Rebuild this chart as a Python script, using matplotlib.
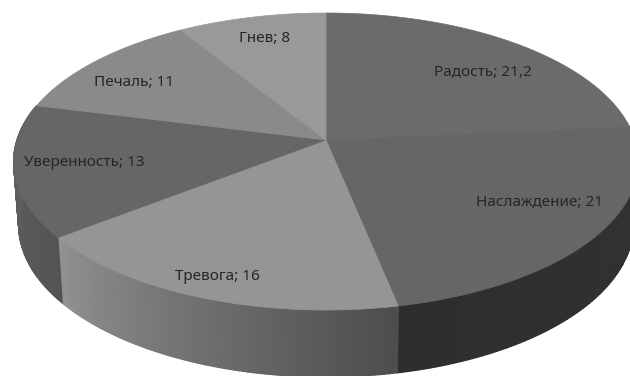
"""Tilted 3D pie of emotion shares, drawn in pixel space with a perspective disc."""

import numpy as np
import matplotlib

matplotlib.use("Agg")
import matplotlib.pyplot as plt
from matplotlib.collections import PolyCollection
from matplotlib.patches import Polygon

plt.rcParams["font.family"] = ["Noto Sans", "DejaVu Sans"]

categories = ["Радость", "Наслаждение", "Тревога", "Уверенность", "Печаль", "Гнев"]
values = [21.2, 21, 16, 13, 11, 8]
value_labels = ["21,2", "21", "16", "13", "11", "8"]

WIDTH, HEIGHT = 630, 376

# grey level per slice: top face, then wall shade at the start and end of the arc
TOP_GREYS = [0.42, 0.40, 0.585, 0.40, 0.54, 0.60]
WALL_GREYS = {
    1: (0.20, 0.18),
    2: (0.30, 0.57),
    3: (0.33, 0.39),
}
LABEL_POS = [(483, 72.5), (540, 203), (217, 277), (84, 162.5), (134, 83), (265, 39)]

TILT = 0.1448  # foreshortening: the near rim looks bigger than the far rim


def project(theta, cx, cy, rx, ry):
    """Map clockwise-from-top angles (radians) on the disc to pixel coordinates."""
    u, v = np.sin(theta), np.cos(theta)
    den = 1 + TILT * v
    return cx + rx * u / den, cy - ry * v / den


def top_rim(theta):
    return project(theta, 326, 140, 309, 145.4)


def bottom_rim(theta):
    return project(theta, 326, 203, 304, 148.7)


def main():
    fig = plt.figure(figsize=(WIDTH / 100, HEIGHT / 100), dpi=100, facecolor="white")
    ax = fig.add_axes([0, 0, 1, 1])
    ax.set_xlim(0, WIDTH)
    ax.set_ylim(HEIGHT, 0)
    ax.axis("off")

    edges = np.concatenate([[0], np.cumsum(values)]) / np.sum(values) * 2 * np.pi

    # outer wall: thin shaded quads so the shade can change along the arc
    for i, (shade_a, shade_b) in WALL_GREYS.items():
        start, stop = edges[i], edges[i + 1]
        thetas = np.linspace(start, stop, 90)
        x_t, y_t = top_rim(thetas)
        x_b, y_b = bottom_rim(thetas)
        quads = [
            [(x_t[j], y_t[j]), (x_t[j + 1], y_t[j + 1]), (x_b[j + 1], y_b[j + 1]), (x_b[j], y_b[j])]
            for j in range(len(thetas) - 1)
        ]
        shades = np.linspace(shade_a, shade_b, len(quads))
        colors = [(s, s, s) for s in shades]
        # solid backing keeps the seams between quads from showing as stripes
        mid = (shade_a + shade_b) / 2
        backing = np.vstack([np.column_stack([x_t, y_t]), np.column_stack([x_b, y_b])[::-1]])
        ax.add_patch(Polygon(backing, closed=True, facecolor=(mid, mid, mid), edgecolor="none"))
        ax.add_collection(PolyCollection(quads, facecolors=colors, edgecolors=colors, linewidths=1.0))

    # top face
    for i, grey in enumerate(TOP_GREYS):
        thetas = np.linspace(edges[i], edges[i + 1], 120)
        x, y = top_rim(thetas)
        pts = np.vstack([[326, 140], np.column_stack([x, y])])
        ax.add_patch(Polygon(pts, closed=True, facecolor=(grey, grey, grey),
                             edgecolor=(grey, grey, grey), linewidth=0.5))

    for name, val, (lx, ly) in zip(categories, value_labels, LABEL_POS):
        ax.text(lx, ly, f"{name}; {val}", ha="center", va="center", fontsize=11, color="#262626")

    fig.savefig("out.png", dpi=100, facecolor="white")


if __name__ == "__main__":
    main()
